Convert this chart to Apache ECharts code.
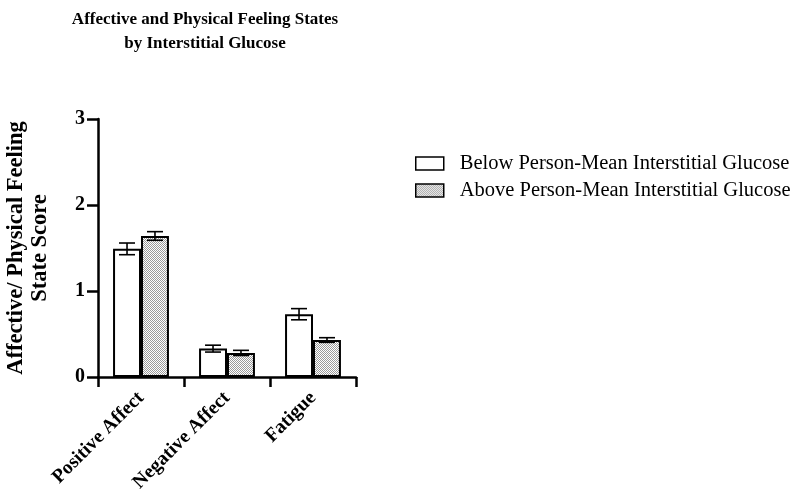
<!DOCTYPE html>
<html><head><meta charset="utf-8">
<script src="https://cdn.jsdelivr.net/npm/echarts@6/dist/echarts.min.js"></script>
<style>html,body{margin:0;padding:0;background:#fff}#c{width:800px;height:498px}</style>
</head><body><div id="c"></div>
<script>
const categories = ['Positive Affect', 'Negative Affect', 'Fatigue'];
const seriesNames = ['Below Person-Mean Interstitial Glucose', 'Above Person-Mean Interstitial Glucose'];
const belowValues = [1.49, 0.33, 0.73];
const belowErrors = [0.068, 0.04, 0.065];
const aboveValues = [1.64, 0.28, 0.43];
const aboveErrors = [0.05, 0.03, 0.027];
const yTicks = [0, 1, 2, 3];

const pc = document.createElement('canvas');
pc.width = 4; pc.height = 4;
const g = pc.getContext('2d');
g.fillStyle = '#ffffff'; g.fillRect(0, 0, 4, 4);
g.fillStyle = '#9a9a9a';
[[0,0],[2,0],[1,1],[3,1],[0,2],[2,2],[1,3],[3,3]].forEach(p => g.fillRect(p[0], p[1], 1, 1));
const pattern = { image: pc, repeat: 'repeat' };

const serif = '"Liberation Serif", "DejaVu Serif", serif';

function errSeries(values, errors, side) {
  return {
    type: 'custom',
    silent: true,
    z: 5,
    data: values.map((v, i) => [i, v, errors[i]]),
    renderItem: function (params, api) {
      const band = api.size([1, 0])[0];
      const bw = band * 0.65 / 2;
      const c = api.coord([api.value(0), api.value(1)]);
      const x = c[0] + side * bw / 2;
      const top = api.coord([api.value(0), api.value(1) + api.value(2)])[1];
      const bot = api.coord([api.value(0), api.value(1) - api.value(2)])[1];
      const cap = 8;
      const st = { stroke: '#000', lineWidth: 1.6 };
      return { type: 'group', children: [
        { type: 'line', shape: { x1: x, y1: top, x2: x, y2: bot }, style: st },
        { type: 'line', shape: { x1: x - cap, y1: top, x2: x + cap, y2: top }, style: st },
        { type: 'line', shape: { x1: x - cap, y1: bot, x2: x + cap, y2: bot }, style: st }
      ]};
    }
  };
}

const chart = echarts.init(document.getElementById('c'));
chart.setOption({
  animation: false,
  title: {
    text: 'Affective and Physical Feeling States\nby Interstitial Glucose',
    left: 200, top: 3, textAlign: 'center',
    textStyle: { fontFamily: serif, fontWeight: 'bold', fontSize: 17, color: '#000', lineHeight: 24 }
  },
  legend: {
    orient: 'vertical', left: 410, top: 148, itemWidth: 28, itemHeight: 13, itemGap: 6,
    icon: 'rect',
    data: [
      { name: seriesNames[0], itemStyle: { color: '#fff', borderColor: '#000', borderWidth: 1.5 } },
      { name: seriesNames[1], itemStyle: { color: pattern, borderColor: '#000', borderWidth: 1.5 } }
    ],
    textStyle: { fontFamily: serif, fontSize: 20.5, color: '#000', padding: [0, 0, 0, 11] }
  },
  grid: { left: 98, right: 444, top: 119, bottom: 121, outerBoundsMode: 'none', containLabel: false },
  xAxis: {
    type: 'category', data: categories,
    axisLine: { lineStyle: { color: '#000', width: 2.5 } },
    axisTick: { show: true, length: 10, lineStyle: { color: '#000', width: 2.5 } },
    axisLabel: { rotate: 45, margin: 18, fontFamily: serif, fontWeight: 'bold', fontSize: 19.5, color: '#000' }
  },
  yAxis: {
    type: 'value', min: 0, max: 3, interval: 1,
    name: 'Affective/ Physical Feeling\nState Score', nameLocation: 'middle', nameGap: 46,
    nameMoveOverlap: false,
    nameTextStyle: { fontFamily: serif, fontWeight: 'bold', fontSize: 22.5, color: '#000', lineHeight: 24 },
    splitLine: { show: false },
    axisLine: { show: true, lineStyle: { color: '#000', width: 2.5 } },
    axisTick: { show: true, length: 11, lineStyle: { color: '#000', width: 2.5 } },
    axisLabel: { margin: 13, fontFamily: serif, fontWeight: 'bold', fontSize: 20, color: '#000',
      formatter: v => yTicks.includes(v) ? String(v) : '' }
  },
  series: [
    { name: seriesNames[0], type: 'bar', data: belowValues, barGap: '0%', barCategoryGap: '35%',
      itemStyle: { color: '#fff', borderColor: '#000', borderWidth: 2 } },
    { name: seriesNames[1], type: 'bar', data: aboveValues, barGap: '0%', barCategoryGap: '35%',
      itemStyle: { color: pattern, borderColor: '#000', borderWidth: 2 } },
    errSeries(belowValues, belowErrors, -1),
    errSeries(aboveValues, aboveErrors, 1)
  ]
});
</script></body></html>
